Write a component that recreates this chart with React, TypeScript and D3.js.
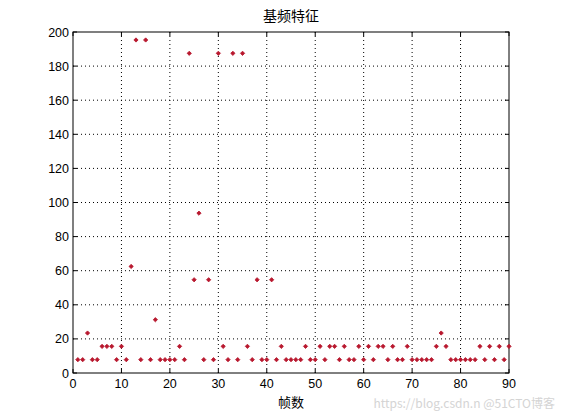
import React from "react";
import * as d3 from "d3";

const frames: number[] = d3.range(1, 91);
// base-frequency level multiples of 7.8125 Hz
const L1 = 7.8125, L2 = 15.625, L3 = 23.4375, L4 = 31.25, L7 = 54.6875, L8 = 62.5, L12 = 93.75, L24 = 187.5, L25 = 195.3125;
const pitch: number[] = [
  L1, L1, L3, L1, L1, L2, L2, L2, L1, L2,
  L1, L8, L25, L1, L25, L1, L4, L1, L1, L1,
  L1, L2, L1, L24, L7, L12, L1, L7, L1, L24,
  L2, L1, L24, L1, L24, L2, L1, L7, L1, L1,
  L7, L1, L2, L1, L1, L1, L1, L2, L1, L1,
  L2, L1, L2, L2, L1, L2, L1, L1, L2, L1,
  L2, L1, L2, L2, L1, L2, L1, L1, L2, L1,
  L1, L1, L1, L1, L2, L3, L2, L1, L1, L1,
  L1, L1, L1, L2, L1, L2, L1, L2, L1, L2,
];
const xTicks: number[] = [0, 10, 20, 30, 40, 50, 60, 70, 80, 90];
const yTicks: number[] = [0, 20, 40, 60, 80, 100, 120, 140, 160, 180, 200];
const title = "基频特征";
const xLabel = "帧数";

export default function App() {
  const W = 561, H = 420;
  const left = 73, right = 509, top = 32, bottom = 373;
  const x = d3.scaleLinear().domain([0, 90]).range([left, right]);
  const y = d3.scaleLinear().domain([0, 200]).range([bottom, top]);
  const sym = d3.symbol().type(d3.symbolSquare).size(9);
  const tickFont = "Liberation Sans, Arial, sans-serif";
  return (
    <svg width={W} height={H} style={{ position: "absolute", left: 0, top: 0, background: "#fff" }}>
      <rect x={0} y={0} width={W} height={H} fill="#fff" />
      {/* grid */}
      {xTicks.slice(1, -1).map((t) => (
        <line key={"gx" + t} x1={x(t)} x2={x(t)} y1={top} y2={bottom} stroke="#000" strokeWidth={1} strokeDasharray="1,3" />
      ))}
      {yTicks.slice(1, -1).map((t) => (
        <line key={"gy" + t} x1={left} x2={right} y1={y(t)} y2={y(t)} stroke="#000" strokeWidth={1} strokeDasharray="1,3" />
      ))}
      {/* ticks */}
      {xTicks.map((t) => (
        <g key={"tx" + t}>
          <line x1={x(t)} x2={x(t)} y1={bottom} y2={bottom - 4} stroke="#000" />
          <line x1={x(t)} x2={x(t)} y1={top} y2={top + 4} stroke="#000" />
          <text x={x(t)} y={bottom + 15} textAnchor="middle" fontFamily={tickFont} fontSize={12.5}>{t}</text>
        </g>
      ))}
      {yTicks.map((t) => (
        <g key={"ty" + t}>
          <line x1={left} x2={left + 4} y1={y(t)} y2={y(t)} stroke="#000" />
          <line x1={right} x2={right - 4} y1={y(t)} y2={y(t)} stroke="#000" />
          <text x={left - 4} y={y(t) + 4.5} textAnchor="end" fontFamily={tickFont} fontSize={12.5}>{t}</text>
        </g>
      ))}
      <rect x={left} y={top} width={right - left} height={bottom - top} fill="none" stroke="#000" strokeWidth={1} />
      {/* points */}
      {frames.map((f, i) => (
        <path key={"p" + f} d={sym() as string} transform={`translate(${x(f)},${y(pitch[i])}) rotate(45)`} fill="#b8182e" stroke="#b8182e" strokeWidth={0.8} />
      ))}
      <text x={(left + right) / 2} y={21} textAnchor="middle" fontFamily="Noto Sans CJK SC" fontSize={14}>{title}</text>
      <text x={(left + right) / 2} y={407} textAnchor="middle" fontFamily="Noto Sans CJK SC" fontSize={13}>{xLabel}</text>
      <text x={555} y={408} textAnchor="end" fontFamily="Noto Sans CJK SC" fontSize={12} fill="#d4d4d4">https://blog.csdn.n  @51CTO博客</text>
    </svg>
  );
}
